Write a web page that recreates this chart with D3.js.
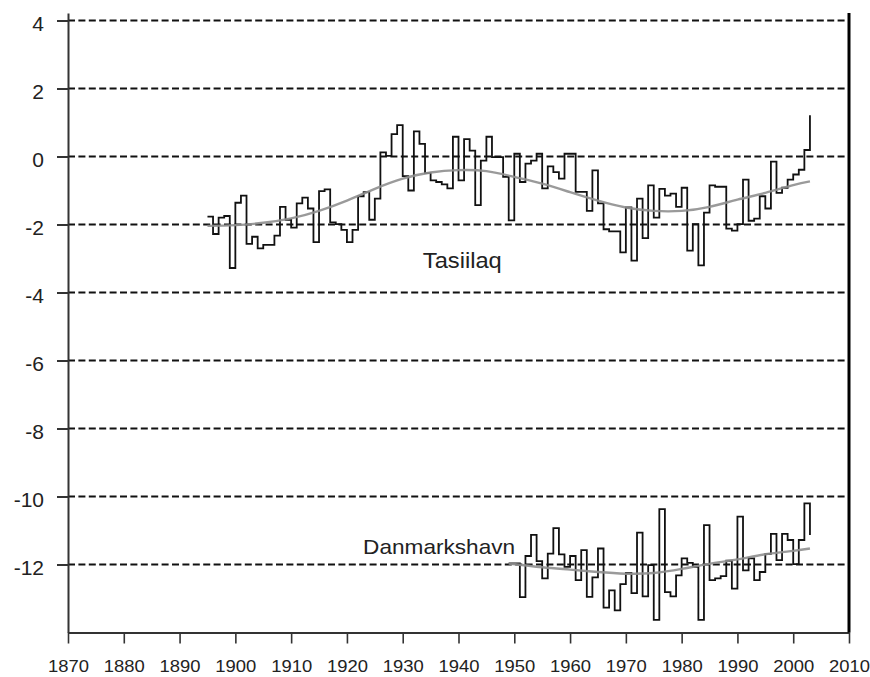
<!DOCTYPE html>
<html>
<head>
<meta charset="utf-8">
<script src="https://cdn.jsdelivr.net/npm/d3@7"></script>
<style>
  html, body { margin: 0; padding: 0; background: #fff; }
  svg { display: block; }
  text { font-family: "Liberation Sans", Arial, sans-serif; fill: #222; }
</style>
</head>
<body>
<svg id="chart" width="870" height="677"></svg>
<script>
// ---------- data ----------
const tasStartYear = 1895;
const tasValues = [
  -1.77, -2.28, -1.80, -1.75, -3.28, -1.36, -1.15, -2.57, -2.36, -2.70,
  -2.60, -2.60, -2.33, -1.48, -1.86, -2.09, -1.38, -1.21, -1.53, -2.52,
  -1.02, -0.97, -1.94, -1.99, -2.16, -2.52, -2.16, -1.17, -1.05, -1.86,
  -1.24,  0.12,  0.02,  0.66,  0.92, -0.58, -1.00,  0.74,  0.37, -0.49,
  -0.70, -0.75, -0.82, -0.94,  0.58, -0.70,  0.51,  0.17, -1.43, -0.12,
   0.58, -0.02, -0.02, -0.60, -1.88,  0.08, -0.75, -0.21, -0.12,  0.08,
  -0.94, -0.29, -0.46, -0.65,  0.08,  0.08, -1.04, -1.04, -1.60, -0.41,
  -1.38, -2.14, -2.20, -2.20, -2.82, -1.50, -3.06, -1.24, -2.40, -0.85,
  -1.80, -0.95, -1.15, -1.09, -1.48, -0.92, -2.77, -1.99, -3.20, -1.65,
  -0.85, -0.89, -0.89, -2.12, -2.18, -1.99, -0.68, -1.89, -1.83, -1.17,
  -1.53, -0.15, -1.07, -0.92, -0.68, -0.53, -0.39,  0.19,  1.21
];
const tasSmoothYears  = [1895, 1900, 1905, 1910, 1915, 1920, 1925, 1930, 1935, 1940, 1945, 1950,
                         1955, 1960, 1965, 1970, 1975, 1980, 1985, 1990, 1995, 2000, 2003];
const tasSmoothValues = [-2.04, -2.02, -1.95, -1.82, -1.60, -1.30, -0.95, -0.65, -0.47, -0.40, -0.43, -0.60,
                         -0.80, -1.05, -1.30, -1.50, -1.60, -1.60, -1.48, -1.27, -1.07, -0.84, -0.73];

const danStartYear = 1949;
const danValues = [
  -11.97, -11.97, -12.96, -11.75, -11.13, -11.90, -12.41, -11.68, -10.93, -11.70,
  -12.07, -11.75, -12.46, -11.58, -12.95, -12.38, -11.53, -13.27, -12.76, -13.35,
  -12.58, -12.25, -12.84, -11.06, -12.94, -12.02, -13.63, -10.37, -12.81, -12.94,
  -12.32, -11.82, -11.95, -12.07, -13.63, -10.84, -12.46, -12.41, -12.34, -11.89,
  -12.71, -10.59, -12.17, -11.82, -12.46, -12.22, -11.69, -11.10, -11.87, -11.10,
  -11.28, -11.99, -11.28, -10.20, -11.13
];
const danSmoothYears  = [1949, 1955, 1960, 1965, 1970, 1975, 1980, 1985, 1990, 1995, 2000, 2003];
const danSmoothValues = [-11.97, -12.08, -12.15, -12.22, -12.27, -12.25, -12.13, -11.98, -11.85, -11.70, -11.60, -11.53];

const xTicks = [1870, 1880, 1890, 1900, 1910, 1920, 1930, 1940, 1950, 1960, 1970, 1980, 1990, 2000, 2010];
const yTicks = [-12, -10, -8, -6, -4, -2, 0, 2, 4];

const seriesLabels = [
  { text: "Tasiilaq", year: 1933.6, value: -3.28, size: 22, len: 79 },
  { text: "Danmarkshavn", year: 1922.9, value: -11.70, size: 21, len: 152 }
];

// ---------- scales ----------
const x = d3.scaleLinear().domain([1870, 2010]).range([68, 849]);
const y = d3.scaleLinear().domain([-14, 4.22]).range([632.5, 13]);

const svg = d3.select("#chart");
svg.append("rect").attr("width", 870).attr("height", 677).attr("fill", "#fff");

// grid (dashed)
svg.append("g").selectAll("line").data(yTicks).join("line")
  .attr("x1", x(1870)).attr("x2", x(2010))
  .attr("y1", d => y(d)).attr("y2", d => y(d))
  .attr("stroke", "#111").attr("stroke-width", 1.8)
  .attr("stroke-dasharray", "7,3.4");

// y axis
const yAxis = svg.append("g").attr("transform", `translate(${x(1870)},0)`)
  .call(d3.axisLeft(y).tickValues(yTicks).tickSize(11).tickSizeOuter(0).tickPadding(13)
        .tickFormat(d => String(d)));
yAxis.select(".domain").attr("stroke", "#333").attr("stroke-width", 2);
yAxis.selectAll(".tick line").attr("stroke", "#333").attr("stroke-width", 2);
yAxis.selectAll("text").attr("font-size", 21).attr("dy", "0.5em").attr("fill", "#222");

// x axis
const xAxis = svg.append("g").attr("transform", `translate(0,${y(-14)})`)
  .call(d3.axisBottom(x).tickValues(xTicks).tickSize(11).tickSizeOuter(0).tickPadding(17)
        .tickFormat(d3.format("d")));
xAxis.select(".domain").attr("stroke", "#333").attr("stroke-width", 2);
xAxis.selectAll(".tick line").attr("stroke", "#333").attr("stroke-width", 1.6);
xAxis.selectAll("text").attr("font-size", 16.5).attr("fill", "#222")
  .attr("textLength", 41).attr("lengthAdjust", "spacingAndGlyphs");

// right border
svg.append("line")
  .attr("x1", x(2010)).attr("x2", x(2010))
  .attr("y1", y(4.22)).attr("y2", y(-14))
  .attr("stroke", "#000").attr("stroke-width", 3);

// series
const tas = tasValues.map((v, i) => ({ year: tasStartYear + i, value: v }));
const dan = danValues.map((v, i) => ({ year: danStartYear + i, value: v }));
const tasSmooth = tasSmoothYears.map((yr, i) => ({ year: yr, value: tasSmoothValues[i] }));
const danSmooth = danSmoothYears.map((yr, i) => ({ year: yr, value: danSmoothValues[i] }));

const stepLine = d3.line().x(d => x(d.year)).y(d => y(d.value)).curve(d3.curveStepAfter);
const smoothLine = d3.line().x(d => x(d.year)).y(d => y(d.value)).curve(d3.curveNatural);

[tas, dan].forEach(s => {
  svg.append("path").datum(s).attr("d", stepLine)
    .attr("fill", "none").attr("stroke", "#111").attr("stroke-width", 1.8)
    .attr("stroke-linejoin", "miter");
});
[tasSmooth, danSmooth].forEach(s => {
  svg.append("path").datum(s).attr("d", smoothLine)
    .attr("fill", "none").attr("stroke", "#8f8f8f").attr("stroke-width", 2.4)
    .attr("stroke-opacity", 0.9);
});

// labels
svg.append("g").selectAll("text").data(seriesLabels).join("text")
  .attr("x", d => x(d.year)).attr("y", d => y(d.value))
  .attr("font-size", d => d.size).attr("fill", "#222")
  .attr("textLength", d => d.len).attr("lengthAdjust", "spacingAndGlyphs")
  .text(d => d.text);
</script>
</body>
</html>
